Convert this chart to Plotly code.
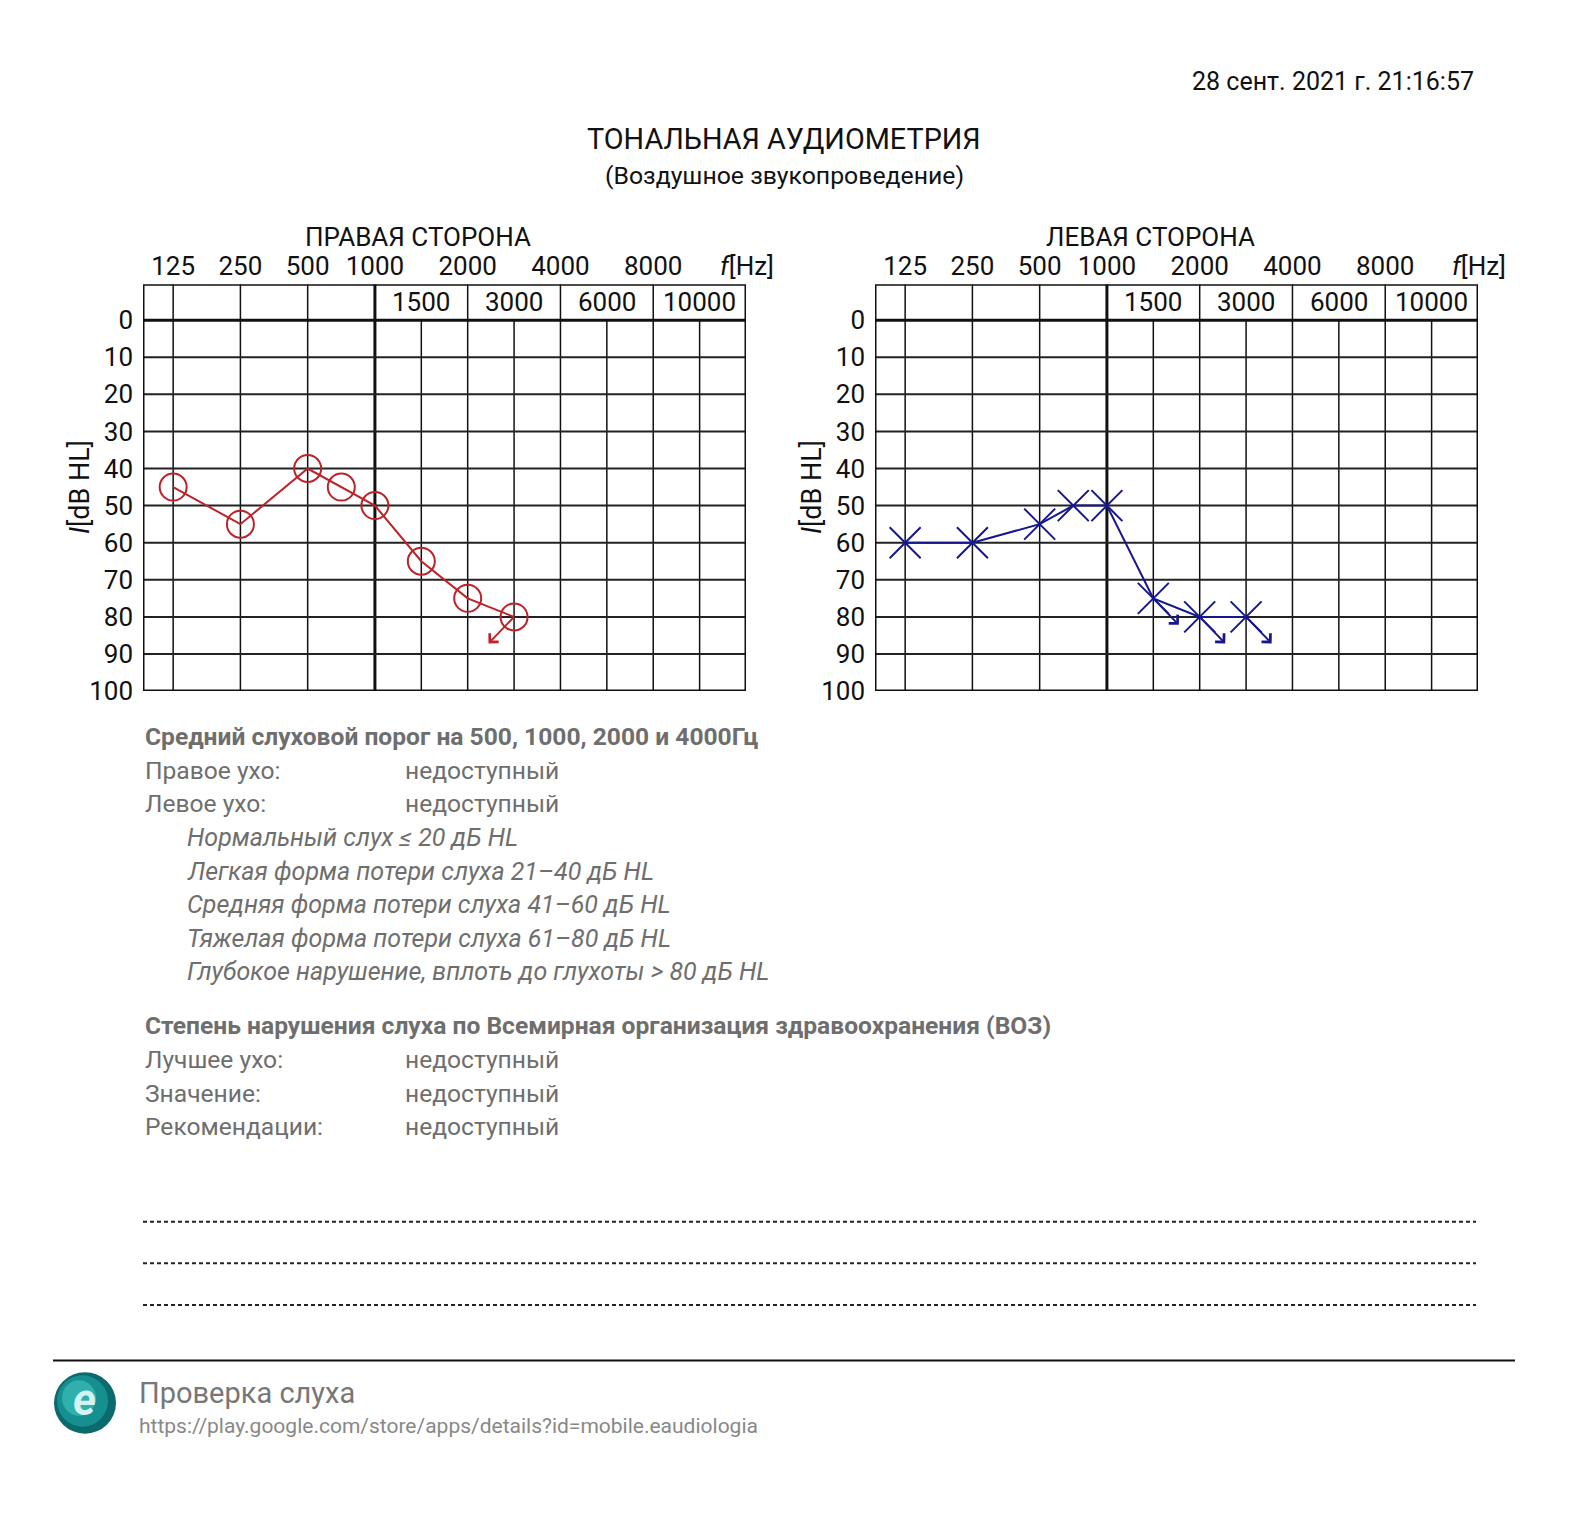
import numpy as np
import plotly.graph_objects as go

W, H = 1575, 1513
FONT = "Roboto"

# ---------------- data ----------------
FREQ_TICKS = [125, 250, 500, 1000, 1500, 2000, 3000, 4000, 6000, 8000, 10000]
TOP_LABEL_FREQS = [125, 250, 500, 1000, 2000, 4000, 8000]
TOP_LABELS = ["125", "250", "500", "1000", "2000", "4000", "8000"]
BAND_LABEL_FREQS = [1500, 3000, 6000, 10000]
BAND_LABELS = ["1500", "3000", "6000", "10000"]
DB_TICKS = [0, 10, 20, 30, 40, 50, 60, 70, 80, 90, 100]
DB_LABELS = ["0", "10", "20", "30", "40", "50", "60", "70", "80", "90", "100"]

RIGHT_FREQ = [125, 250, 500, 750, 1000, 1500, 2000, 3000]
RIGHT_DB = [45, 55, 40, 45, 50, 65, 75, 80]
RIGHT_NO_RESPONSE = [3000]

LEFT_FREQ = [125, 250, 500, 750, 1000, 1500, 2000, 3000]
LEFT_DB = [60, 60, 55, 50, 50, 75, 80, 80]
LEFT_NO_RESPONSE = [1500, 2000, 3000]

# ---------------- scale (audiogram frequency layout) ----------------
LOW_STEP = 1.45
TICK_POS = [(i - 3) * LOW_STEP if i <= 3 else float(i - 3) for i in range(len(FREQ_TICKS))]
X_RANGE = [-5, 8]
Y_RANGE = [100, -9.7]


def fpos(f):
    return np.interp(f, FREQ_TICKS, TICK_POS)


RED = "#bc2228"
BLUE = "#16168f"
GRAY = "#6e6e6e"
TICK_SIZE = 26
BODY = 24.6


def px(x):
    return x / W


def py(y):
    return 1 - y / H


fig = go.Figure()

fig.add_trace(go.Scatter(
    x=fpos(RIGHT_FREQ), y=RIGHT_DB, mode="lines+markers", xaxis="x", yaxis="y",
    line=dict(color=RED, width=2),
    marker=dict(symbol="circle-open", size=27, color=RED, line=dict(width=2, color=RED)),
    showlegend=False, hoverinfo="skip"))
fig.add_trace(go.Scatter(
    x=fpos(LEFT_FREQ), y=LEFT_DB, mode="lines+markers", xaxis="x2", yaxis="y2",
    line=dict(color=BLUE, width=2),
    marker=dict(symbol="x-thin-open", size=31, color=BLUE, line=dict(width=2, color=BLUE)),
    showlegend=False, hoverinfo="skip"))

shapes = []
annotations = []


def grid(xr, yr):
    for f in FREQ_TICKS:
        y0 = Y_RANGE[1] if f in TOP_LABEL_FREQS else 0
        shapes.append(dict(type="line", xref=xr, yref=yr, x0=fpos(f), x1=fpos(f), y0=y0, y1=100,
                           line=dict(color="#111", width=3 if f == 1000 else 1.5), layer="below"))
    for d in DB_TICKS[1:-1]:
        shapes.append(dict(type="line", xref=xr, yref=yr, x0=X_RANGE[0], x1=X_RANGE[1], y0=d, y1=d,
                           line=dict(color="#222", width=2), layer="below"))
    shapes.append(dict(type="line", xref=xr, yref=yr, x0=X_RANGE[0], x1=X_RANGE[1], y0=0, y1=0,
                       line=dict(color="#111", width=3), layer="below"))
    shapes.append(dict(type="rect", xref=xr, yref=yr, x0=X_RANGE[0], x1=X_RANGE[1], y0=Y_RANGE[1], y1=100,
                       line=dict(color="#111", width=3), layer="below"))
    for f, t in zip(BAND_LABEL_FREQS, BAND_LABELS):
        annotations.append(dict(xref=xr, yref=yr, x=fpos(f), y=Y_RANGE[1] / 2, text=t, showarrow=False,
                                font=dict(family=FONT, size=TICK_SIZE, color="#111"),
                                xanchor="center", yanchor="middle"))


grid("x", "y")
grid("x2", "y2")

for f in RIGHT_NO_RESPONSE:
    db = RIGHT_DB[RIGHT_FREQ.index(f)]
    annotations.append(dict(xref="x", yref="y", x=fpos(f), y=db, text="", showarrow=True,
                            ax=-27, ay=28, arrowside="start", startarrowhead=4, startarrowsize=1.2,
                            arrowwidth=2, arrowcolor=RED, standoff=0, startstandoff=0))
for f in LEFT_NO_RESPONSE:
    db = LEFT_DB[LEFT_FREQ.index(f)]
    annotations.append(dict(xref="x2", yref="y2", x=fpos(f), y=db, text="", showarrow=True,
                            ax=27, ay=28, arrowside="start", startarrowhead=4, startarrowsize=1.2,
                            arrowwidth=2, arrowcolor=BLUE, standoff=0, startstandoff=0))


def txt(x, y, s, size, color="#111", xanchor="left", angle=0):
    annotations.append(dict(xref="paper", yref="paper", x=px(x), y=py(y), text=s, showarrow=False,
                            xanchor=xanchor, yanchor="middle", textangle=angle,
                            font=dict(family=FONT, size=size, color=color)))


txt(1476, 82, "28 сент. 2021 г. 21:16:57", 25, "#111", "right")
txt(784, 140, "ТОНАЛЬНАЯ АУДИОМЕТРИЯ", 28.8, "#111", "center")
txt(784, 177, "(Воздушное звукопроведение)", 24.8, "#111", "center")

for off, title in [(0, "ПРАВАЯ СТОРОНА"), (732, "ЛЕВАЯ СТОРОНА")]:
    txt(418 + off, 239, title, 26, "#111", "center")
    txt(776 + off, 269, "<i>f</i>[Hz]", TICK_SIZE, "#111", "right")
    txt(80 + off, 492, "<i>I</i>[dB HL]", 27, "#111", "center", -90)

txt(143, 744, "<b>Средний слуховой порог на 500, 1000, 2000 и 4000Гц</b>", BODY, GRAY)
txt(143, 778, "Правое ухо:", BODY, GRAY)
txt(403, 778, "недоступный", BODY, GRAY)
txt(143, 812, "Левое ухо:", BODY, GRAY)
txt(403, 812, "недоступный", BODY, GRAY)
for i, s in enumerate(["Нормальный слух ≤ 20 дБ HL",
                       "Легкая форма потери слуха 21–40 дБ HL",
                       "Средняя форма потери слуха 41–60 дБ HL",
                       "Тяжелая форма потери слуха 61–80 дБ HL",
                       "Глубокое нарушение, вплоть до глухоты > 80 дБ HL"]):
    txt(185, 846 + 33.8 * i, "<i>" + s + "</i>", 25, GRAY)
txt(143, 1036, "<b>Степень нарушения слуха по Всемирная организация здравоохранения (ВОЗ)</b>", BODY, GRAY)
for i, s in enumerate(["Лучшее ухо:", "Значение:", "Рекомендации:"]):
    txt(143, 1070 + 34 * i, s, BODY, GRAY)
    txt(403, 1070 + 34 * i, "недоступный", BODY, GRAY)

for y in [1234, 1276, 1318]:
    shapes.append(dict(type="line", xref="paper", yref="paper", x0=px(143), x1=px(1476), y0=py(y), y1=py(y),
                       line=dict(color="#222", width=2, dash="4px,3px")))
shapes.append(dict(type="line", xref="paper", yref="paper", x0=px(53), x1=px(1515), y0=py(1374), y1=py(1374),
                   line=dict(color="#111", width=2)))
# logo
shapes.append(dict(type="circle", xref="paper", yref="paper", x0=px(54), x1=px(116), y0=py(1448), y1=py(1386),
                   fillcolor="#0b6a6e", line=dict(width=0)))
shapes.append(dict(type="circle", xref="paper", yref="paper", x0=px(57), x1=px(108), y0=py(1441), y1=py(1389),
                   fillcolor="#168f90", line=dict(width=0)))
shapes.append(dict(type="circle", xref="paper", yref="paper", x0=px(62), x1=px(96), y0=py(1430), y1=py(1394),
                   fillcolor="#2fb0ad", line=dict(width=0)))
annotations.append(dict(xref="paper", yref="paper", x=px(84), y=py(1414), text="<b><i>e</i></b>", showarrow=False,
                        xanchor="center", yanchor="middle", font=dict(family=FONT, size=44, color="#d4f4f2")))
txt(137, 1407, "Проверка слуха", 29, "#777")
txt(137, 1440, "https://play.google.com/store/apps/details?id=mobile.eaudiologia", 21, "#888")

axis_common = dict(range=X_RANGE, showgrid=False, zeroline=False, showline=False, ticks="",
                   side="top", tickvals=[fpos(f) for f in TOP_LABEL_FREQS], ticktext=TOP_LABELS,
                   tickfont=dict(family=FONT, size=TICK_SIZE, color="#111"), fixedrange=True,
                   ticklabelstandoff=3)
yaxis_common = dict(range=Y_RANGE, showgrid=False, zeroline=False, showline=False, ticks="",
                    tickvals=DB_TICKS, ticktext=DB_LABELS, tickfont=dict(family=FONT, size=TICK_SIZE, color="#111"),
                    fixedrange=True, ticklabelstandoff=9)

fig.update_layout(
    width=W, height=H, margin=dict(l=0, r=0, t=0, b=0),
    paper_bgcolor="white", plot_bgcolor="white",
    xaxis=dict(domain=[px(143), px(746)], anchor="y", **axis_common),
    yaxis=dict(domain=[py(698), py(287)], anchor="x", **yaxis_common),
    xaxis2=dict(domain=[px(875), px(1478)], anchor="y2", **axis_common),
    yaxis2=dict(domain=[py(698), py(287)], anchor="x2", **yaxis_common),
    shapes=shapes, annotations=annotations, showlegend=False,
)

fig.write_html("out.html", config={"displayModeBar": False},
               post_script="document.body.style.margin='0';document.body.style.overflow='hidden';")
